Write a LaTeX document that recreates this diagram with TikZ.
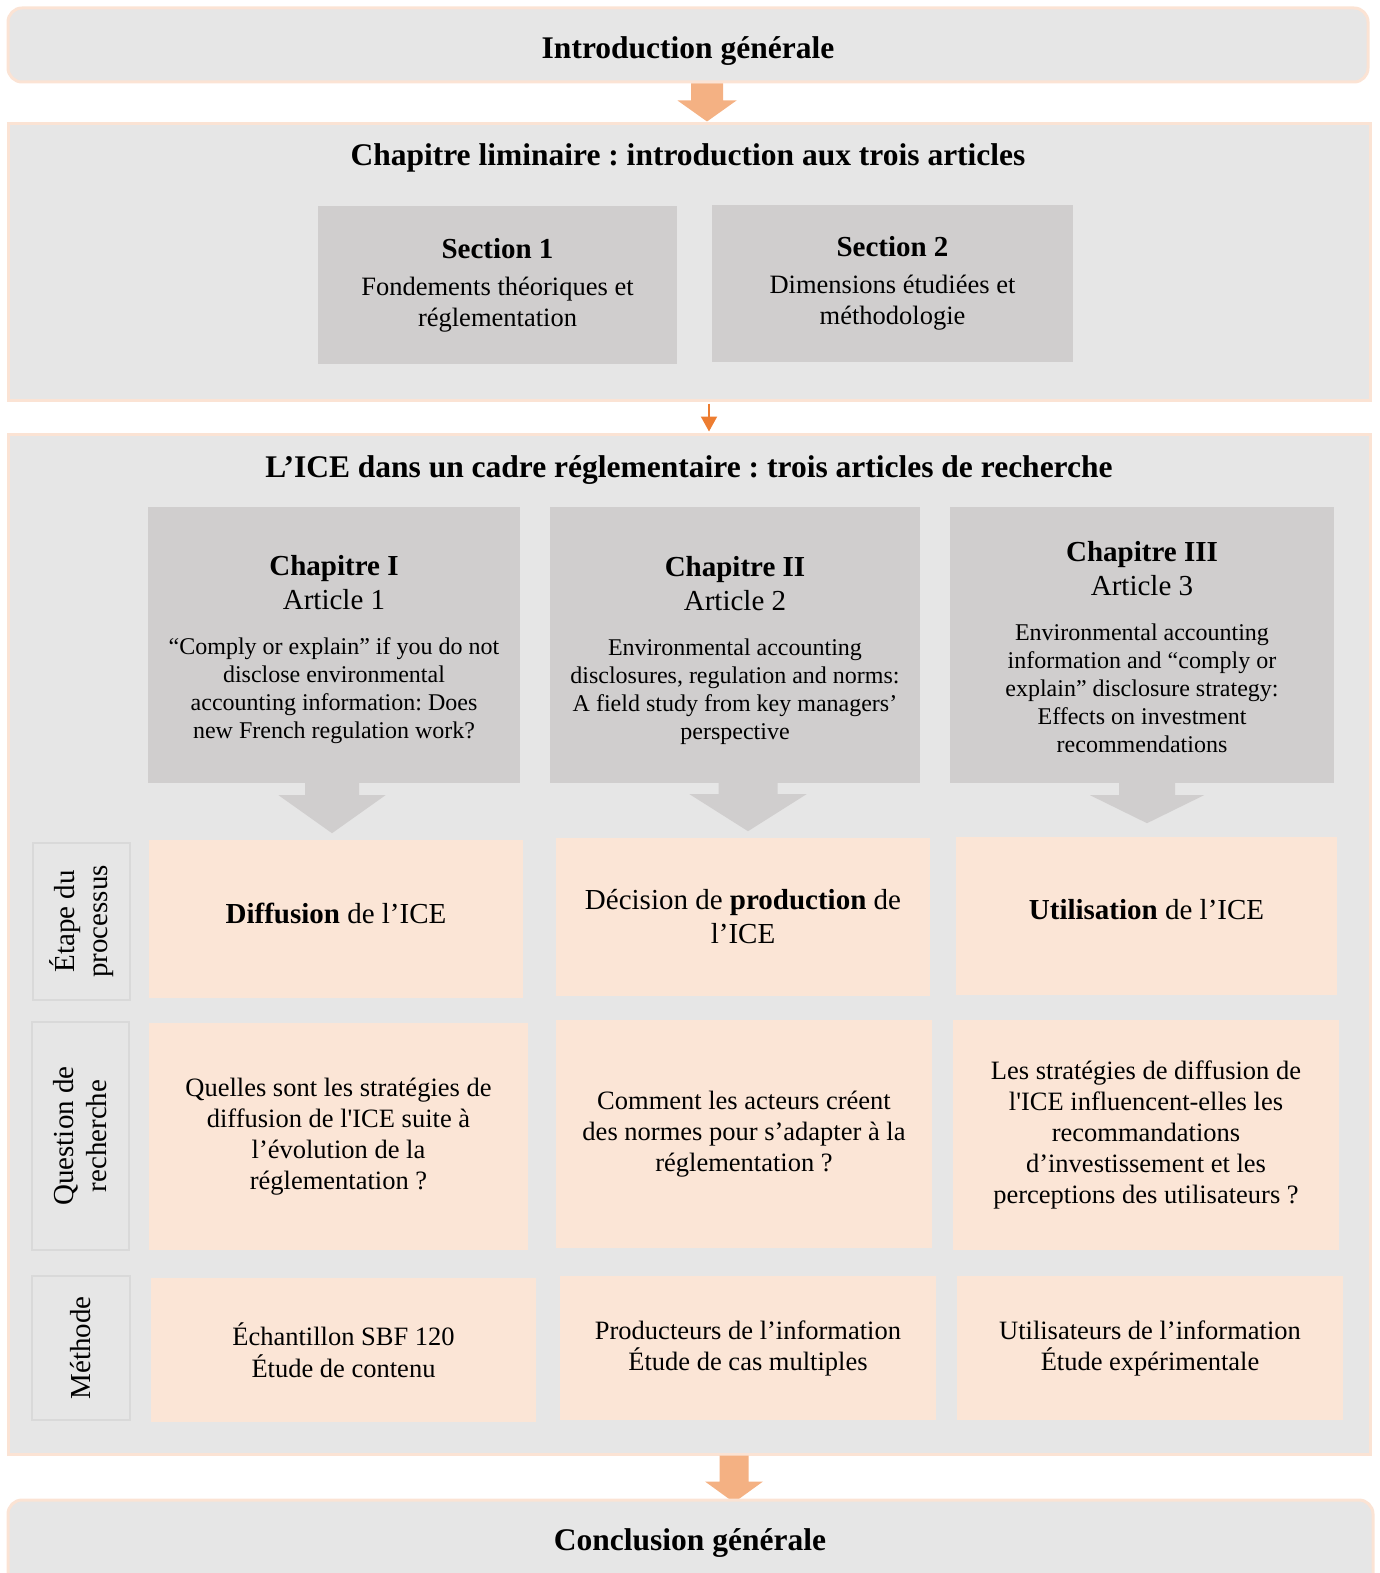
\documentclass[tikz,border=0pt]{standalone}
\usepackage{fontspec}
\setmainfont{Liberation Serif}
\usetikzlibrary{calc,arrows.meta}
\frenchspacing

\definecolor{boxgrey}{HTML}{E6E6E6}
\definecolor{secgrey}{HTML}{D0CECE}
\definecolor{peachline}{HTML}{FBE3D4}
\definecolor{peachfill}{HTML}{FBE5D6}
\definecolor{labelline}{HTML}{D9D9D9}
\definecolor{arrowpeach}{HTML}{F4B183}
\definecolor{arroworange}{HTML}{ED7D31}

\newcommand{\ttlfont}{\fontsize{31.5}{36}\selectfont\bfseries}
\newcommand{\secfont}{\fontsize{29}{34}\selectfont}
\newcommand{\bodyfont}{\fontsize{26.5}{31}\selectfont}
\newcommand{\chbodyfont}{\fontsize{24}{28}\selectfont}

% anchor, x offset, shaft half width, shaft length, head half width, head length, style
\newcommand{\blockarrow}[7]{%
  \fill[#7] ($(#1)+(#2-#3,0)$) -- ++(0,#4) -- ++(#3-#5,0) -- ++(#5,#6)
    -- ++(#5,-#6) -- ++(#3-#5,0) -- ++(0,-#4) -- cycle;}

\begin{document}
\begin{tikzpicture}[x=1pt,y=-1pt,
    bigframe/.style={draw=peachline,line width=3pt,fill=boxgrey,inner sep=0pt},
    roundframe/.style={bigframe,rounded corners=14pt},
    sectbox/.style={fill=secgrey,inner sep=0pt,align=flush center,font=\bodyfont},
    chapbox/.style={fill=secgrey,inner sep=0pt,minimum height=276pt},
    chaptext/.style={inner sep=0pt,align=flush center,font=\secfont},
    stepbox/.style={fill=peachfill,inner sep=0pt,align=flush center},
    sidebox/.style={draw=labelline,line width=2.5pt,fill=boxgrey,inner sep=0pt,
      align=center,rotate=90,font=\fontsize{29}{33}\selectfont}]

    \useasboundingbox (0,0) rectangle (1380,1573);
    \clip (0,0) rectangle (1380,1573);

    % introduction
    \node[roundframe,minimum width=1360pt,minimum height=74pt] (intro) at (688,45) {};
    \node[font=\ttlfont] (introtitle) at (688,51) {Introduction générale};

    % chapitre liminaire
    \node[bigframe,minimum width=1362pt,minimum height=276pt] (lim) at (689,262) {};
    \node[font=\ttlfont] (limtitle) at (688,158) {Chapitre liminaire : introduction aux trois articles};
    \node[sectbox,minimum width=359pt,minimum height=158pt,text width=349pt] (sec1) at (497.5,285)
        {{\secfont\bfseries Section 1}\\[6pt] Fondements théoriques et\\ réglementation};
    \node[sectbox,minimum width=361pt,minimum height=157pt,text width=351pt] (sec2) at (892.5,283.5)
        {{\secfont\bfseries Section 2}\\[6pt] Dimensions étudiées et\\ méthodologie};

    \blockarrow{intro.south}{19}{16}{17}{29.5}{21}{arrowpeach}

    % trois articles
    \node[bigframe,minimum width=1362pt,minimum height=1020pt] (ice) at (689,944) {};
    \node[font=\ttlfont] (icetitle) at (689,470) {L’ICE dans un cadre réglementaire : trois articles de recherche};

    \draw[arroworange,line width=2pt,-{Triangle[length=15pt,width=16pt]}]
        ($(lim.south)+(20,2)$) -- ($(ice.north)+(20,-1)$);

    \node[chapbox,minimum width=372pt] (chI) at (334,645) {};
    \node[chaptext,text width=362pt] (chItext) at (334,650)
        {\textbf{Chapitre I}\\ Article 1\\[17pt]\chbodyfont “Comply or explain” if you do not\\ disclose environmental\\ accounting information: Does\\ new French regulation work?\par};
    \node[chapbox,minimum width=370pt] (chII) at (735,645) {};
    \node[chaptext,text width=360pt] (chIItext) at (735,650)
        {\textbf{Chapitre II}\\ Article 2\\[17pt]\chbodyfont Environmental accounting\\ disclosures, regulation and norms:\\ A field study from key managers’\\ perspective\par};
    \node[chapbox,minimum width=384pt] (chIII) at (1142,645) {};
    \node[chaptext,text width=374pt] (chIIItext) at (1142,647)
        {\textbf{Chapitre III}\\ Article 3\\[17pt]\chbodyfont Environmental accounting\\ information and “comply or\\ explain” disclosure strategy:\\ Effects on investment\\ recommendations\par};

    \blockarrow{chI.south}{-2}{27}{12}{53.5}{38}{secgrey}
    \blockarrow{chII.south}{13}{29.5}{11}{58.5}{37}{secgrey}
    \blockarrow{chIII.south}{5}{28}{12}{57}{28}{secgrey}

    % etape du processus
    \node[sidebox,minimum width=157pt,minimum height=97pt] (lblstep) at (81.5,921.5) {Étape du\\ processus};
    \node[stepbox,minimum width=374pt,minimum height=158pt,text width=364pt,text depth=12pt,font=\secfont] (stepI) at (336,919)
        {\textbf{Diffusion} de l’ICE};
    \node[stepbox,minimum width=374pt,minimum height=158pt,text width=364pt,font=\secfont] (stepII) at (743,917)
        {Décision de \textbf{production} de\\ l’ICE};
    \node[stepbox,minimum width=381pt,minimum height=158pt,text width=371pt,text depth=13pt,font=\secfont] (stepIII) at (1146.5,916)
        {\textbf{Utilisation} de l’ICE};

    % question de recherche
    \node[sidebox,minimum width=228pt,minimum height=97pt] (lblquest) at (80.5,1136) {Question de\\ recherche};
    \node[stepbox,minimum width=379pt,minimum height=227pt,text width=369pt,font=\bodyfont] (questI) at (338.5,1136.5)
        {Quelles sont les stratégies de\\ diffusion de l\textquotesingle ICE suite à\\ l’évolution de la\\ réglementation~?};
    \node[stepbox,minimum width=376pt,minimum height=228pt,text width=366pt,font=\bodyfont] (questII) at (744,1134)
        {Comment les acteurs créent\\ des normes pour s’adapter à la\\ réglementation~?};
    \node[stepbox,minimum width=386pt,minimum height=230pt,text width=376pt,font=\bodyfont] (questIII) at (1146,1135)
        {Les stratégies de diffusion de\\ l\textquotesingle ICE influencent-elles les\\ recommandations\\ d’investissement et les\\ perceptions des utilisateurs~?};

    % methode
    \node[sidebox,minimum width=144pt,minimum height=98pt] (lblmeth) at (81,1348) {Méthode};
    \node[stepbox,minimum width=385pt,minimum height=144pt,text width=375pt,font=\fontsize{26.5}{32}\selectfont] (methI) at (343.5,1350)
        {Échantillon SBF 120\\ Étude de contenu};
    \node[stepbox,minimum width=376pt,minimum height=144pt,text width=366pt,font=\bodyfont] (methII) at (748,1348)
        {Producteurs de l’information\\ Étude de cas multiples};
    \node[stepbox,minimum width=386pt,minimum height=144pt,text width=376pt,font=\bodyfont] (methIII) at (1150,1348)
        {Utilisateurs de l’information\\ Étude expérimentale};

    \blockarrow{ice.south}{45}{14.5}{26}{29}{21}{arrowpeach}

    % conclusion
    \node[roundframe,minimum width=1365pt,minimum height=110pt] (conc) at (690.5,1555) {};
    \node[font=\ttlfont] (conctitle) at (690,1543) {Conclusion générale};

\end{tikzpicture}
\end{document}
